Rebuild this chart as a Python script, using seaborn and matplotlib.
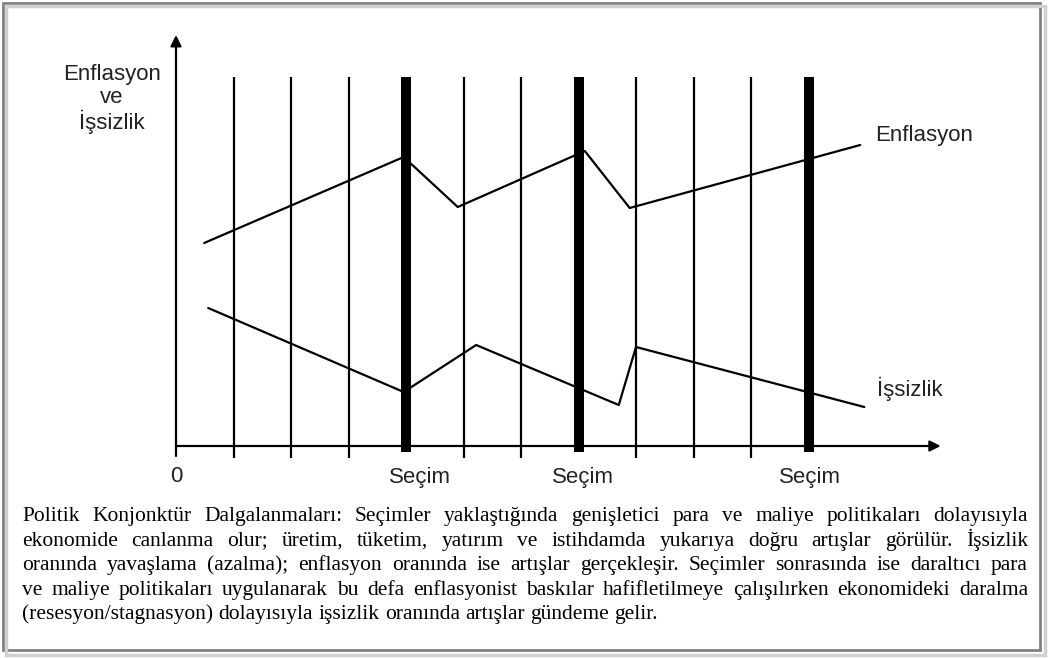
import matplotlib
matplotlib.use("Agg")
import matplotlib.pyplot as plt
import pandas as pd
import seaborn as sns
from matplotlib.patches import Rectangle

# periods on the time axis (unit = one period), election periods drawn thick
periods = list(range(1, 12))
election_periods = [4, 7, 11]
election_label_px = [420, 583, 810]

# series (x in periods, y in arbitrary level units)
enflasyon_x = [0.49, 3.96, 4.90, 7.11, 7.89, 11.90]
enflasyon_y = [50.75, 72.25, 59.75, 73.75, 59.5, 75.25]
issizlik_x = [0.56, 3.96, 5.22, 7.70, 8.00, 11.97]
issizlik_y = [34.5, 13.5, 25.25, 10.25, 24.75, 9.75]

caption_lines = [
    "Politik Konjonktür Dalgalanmaları: Seçimler yaklaştığında genişletici para ve maliye politikaları dolayısıyla",
    "ekonomide canlanma olur; üretim, tüketim, yatırım ve istihdamda yukarıya doğru artışlar görülür. İşsizlik",
    "oranında yavaşlama (azalma); enflasyon oranında ise artışlar gerçekleşir. Seçimler sonrasında ise daraltıcı para",
    "ve maliye politikaları uygulanarak bu defa enflasyonist baskılar hafifletilmeye çalışılırken ekonomideki daralma",
    "(resesyon/stagnasyon) dolayısıyla işsizlik oranında artışlar gündeme gelir.",
]

W, H = 1049, 658
sns.set_theme(style="white")
plt.rcParams["font.family"] = ["Liberation Sans", "DejaVu Sans"]

fig = plt.figure(figsize=(W / 100, H / 100), dpi=100)
fig.patch.set_facecolor("white")


def fx(px):
    return px / W


def fy(py):
    return 1 - py / H


# axes placed so that x=0 sits at px 176 and y=0 at py 446 (57.5 px / period, 4 px / unit)
ax_left, ax_right, ax_top, ax_bottom = 176, 950, 30, 462
ax = fig.add_axes([fx(ax_left), fy(ax_bottom), fx(ax_right - ax_left), (ax_bottom - ax_top) / H])
ax.set_xlim(0, (ax_right - ax_left) / 57.5)
ax.set_ylim(-(ax_bottom - 446) / 4, (446 - ax_top) / 4)
ax.axis("off")

for p in periods:
    if p in election_periods:
        ax.plot([p, p], [-1.5, 92.25], color="black", lw=7.2, solid_capstyle="butt")
    else:
        ax.plot([p, p], [-3, 92.25], color="black", lw=1.6, solid_capstyle="butt")

# axes with arrows
ax.annotate("", xy=(13.3, 0), xytext=(0, 0),
            arrowprops=dict(arrowstyle="-|>", lw=1.6, color="black", mutation_scale=16, shrinkA=0, shrinkB=0))
ax.annotate("", xy=(0, 102.75), xytext=(0, -2.5),
            arrowprops=dict(arrowstyle="-|>", lw=1.6, color="black", mutation_scale=16, shrinkA=0, shrinkB=0))

df = pd.concat([
    pd.DataFrame({"x": enflasyon_x, "y": enflasyon_y, "seri": "Enflasyon"}),
    pd.DataFrame({"x": issizlik_x, "y": issizlik_y, "seri": "İşsizlik"}),
])
sns.lineplot(data=df, x="x", y="y", units="seri", estimator=None, sort=False,
             color="black", lw=1.6, ax=ax, legend=False)

label_kw = dict(fontsize=16, color="#222222", family=["Liberation Sans", "DejaVu Sans"])
fig.text(fx(112), fy(99), "Enflasyon\nve\nİşsizlik", ha="center", va="center", linespacing=1.1, **label_kw)
fig.text(fx(875), fy(136), "Enflasyon", ha="left", va="center", **label_kw)
fig.text(fx(877), fy(389), "İşsizlik", ha="left", va="center", **label_kw)
fig.text(fx(176), fy(477), "0", ha="center", va="center", **label_kw)
for px in election_label_px:
    fig.text(fx(px), fy(477), "Seçim", ha="center", va="center", **label_kw)

# outer frame with a faint shadow
fig.patches.append(Rectangle((fx(6), fy(655)), fx(1039), (649) / H, transform=fig.transFigure,
                             facecolor="none", edgecolor="#d0d0d0", lw=2.5))
fig.patches.append(Rectangle((fx(3), fy(650)), fx(1037), (647) / H, transform=fig.transFigure,
                             facecolor="white", edgecolor="#808080", lw=2, zorder=-1))

# justified caption in a serif face
cap_kw = dict(fontsize=15.5, color="black", family=["Liberation Serif", "DejaVu Serif"], va="baseline")
left, right = 22, 1028
renderer = fig.canvas.get_renderer()
space = fig.text(0, 0, "a a", **cap_kw)
aa = fig.text(0, 0, "aa", **cap_kw)
space_w = space.get_window_extent(renderer).width - aa.get_window_extent(renderer).width
space.remove()
aa.remove()
for i, line in enumerate(caption_lines):
    base = 521 + i * 24.6
    words = line.split(" ")
    objs = [fig.text(0, fy(base), w, **cap_kw) for w in words]
    widths = [o.get_window_extent(renderer).width for o in objs]
    if i < len(caption_lines) - 1:
        gap = (right - left - sum(widths)) / (len(words) - 1)
    else:
        gap = space_w
    x = left
    for o, w in zip(objs, widths):
        o.set_x(fx(x))
        x += w + gap

fig.savefig("out.png", dpi=100)
